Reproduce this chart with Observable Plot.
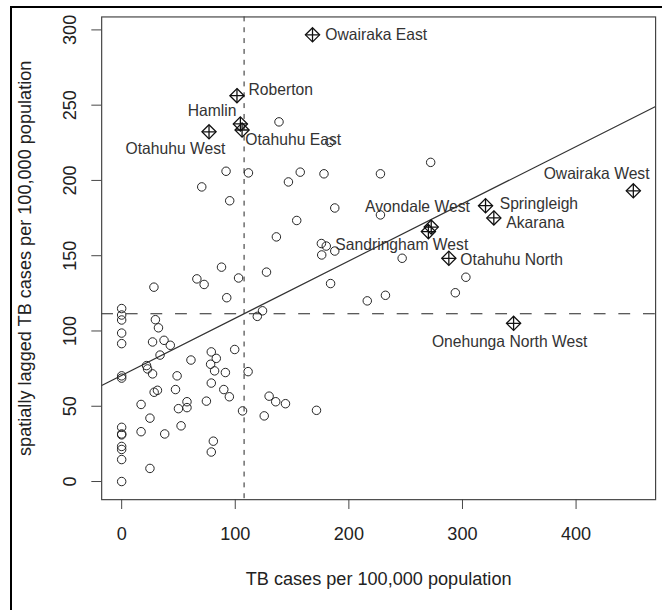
<!DOCTYPE html>
<html><head><meta charset="utf-8">
<script src="https://cdn.jsdelivr.net/npm/d3@7"></script>
<script src="https://cdn.jsdelivr.net/npm/@observablehq/plot@0.6"></script>
<style>
html,body{margin:0;padding:0;background:#fff;overflow:hidden;}
#wrap{position:relative;width:662px;height:610px;overflow:hidden;background:#fff;}
#frame{position:absolute;left:10px;top:6px;width:720px;height:720px;border-left:2px solid #000;border-top:2px solid #000;}
#chart{position:absolute;left:0;top:0;}
</style></head><body>
<div id="wrap"><div id="frame"></div><div id="chart"></div></div>
<script>
// ---- data ----
// ordinary areas: TB rate (x) and spatially lagged TB rate (y)
const tbRate = [
  0,0,0,0,0,0,0,0,0,0,0,0,0,0,
  17.1,17.1,21.9,22.8,24.9,24.9,
  27.2,27.2,28.4,28.6,31.5,29.7,32.4,
  33.8,37.3,37.9,42.8,
  47.4,48.8,50,52.3,57.5,57.5,61,
  66.2,72.6,70.5,74.6,78.3,78.9,78.9,
  78.9,80.7,81.8,83.3,87.9,89.9,91.3,
  91.9,92.5,94.8,95.1,99.5,102.9,106.4,111.3,
  111.6,119.4,124,125.5,127.5,129.8,135.6,
  136.2,138.5,144.2,146.8,154.1,157.2,171.5,
  175.8,176.1,180.1,178.1,183.3,183.9,187.6,187.6,
  216.2,227.8,227.8,232.2,246.9,272,293.7,303
];
const laggedRate = [
  0,14.6,21.3,23.3,31,31.6,36,68.7,70.2,91.6,98.6,107.3,110.6,114.9,
  51.2,33.1,77,74.8,42.1,8.7,
  92.7,71.5,129.1,59.3,60.6,107.5,102.1,
  84,93.8,31.6,90.5,
  61.1,70.2,48.4,37,53,49.1,80.7,
  134.6,130.9,195.7,53.4,77.9,86.1,65.4,
  19.6,26.8,73.5,81.8,142.4,61.1,72.4,
  206.1,122.1,56.3,186.5,87.7,135.2,46.9,73,
  205,109.7,113.4,43.6,139.1,56.7,53,
  162.5,238.9,51.7,199,173.4,205.5,47.3,
  158.1,150.5,156.4,204.4,225.3,131.5,153.1,181.7,
  120,204.4,177.1,123.7,148.3,212,125.4,135.7
];
// influential (labelled) areas
const flaggedNames = ["Owairaka East","Roberton","Hamlin","Otahuhu East","Otahuhu West","Avondale West","Sandringham West","Springleigh","Akarana","Otahuhu North","Owairaka West","Onehunga North West"];
const flaggedRate   = [168, 101.5, 104.5, 106, 76.9, 272.5, 270, 320.3, 327.6, 288, 450.4, 345];
const flaggedLagged = [296.7, 256.3, 237.5, 233.5, 232.3, 169, 166, 183.2, 175.1, 148.3, 193.1, 105.1];

const xTicks = [0, 100, 200, 300, 400];
const yTicks = [0, 50, 100, 150, 200, 250, 300];
const xLabel = "TB cases per 100,000 population";
const yLabel = "spatially lagged TB cases per 100,000 population";

// ---- layout (label placement in pixels) ----
const labelPlacement = {
  "Owairaka East":       {anchor: "start",  dx: 13,   dy: 0},
  "Roberton":            {anchor: "start",  dx: 11.7, dy: -5.7},
  "Hamlin":              {anchor: "end",    dx: -4,   dy: -12.7},
  "Otahuhu East":        {anchor: "start",  dx: 3.3,  dy: 10},
  "Otahuhu West":        {anchor: "end",    dx: 16.6, dy: 17.4},
  "Avondale West":       {anchor: "middle", dx: -14,  dy: -20.5},
  "Sandringham West":    {anchor: "middle", dx: -27,  dy: 14},
  "Springleigh":         {anchor: "start",  dx: 14.4, dy: -1.6},
  "Akarana":             {anchor: "start",  dx: 12.6, dy: 5},
  "Otahuhu North":       {anchor: "start",  dx: 11.7, dy: 1.6},
  "Owairaka West":       {anchor: "middle", dx: -37.3,dy: -16.6},
  "Onehunga North West": {anchor: "middle", dx: -4,   dy: 19}
};

const circles = tbRate.map((x, i) => ({x, y: laggedRate[i]}));
const flagged = flaggedNames.map((name, i) => ({name, x: flaggedRate[i], y: flaggedLagged[i]}));

const allX = tbRate.concat(flaggedRate), allY = laggedRate.concat(flaggedLagged);
const mx = d3.mean(allX), my = d3.mean(allY);
const slope = d3.sum(allX, (x, i) => (x - mx) * (allY[i] - my)) / d3.sum(allX, x => (x - mx) ** 2);
const xDomain = [-17.6, 470];
const yDomain = [-12.04, 308.6];
const regLine = xDomain.map(x => ({x, y: my + slope * (x - mx)}));

const W = 672, H = 610;
const frameLeft = 102.7, frameRight = 665, frameTop = 16.7, frameBottom = 506.7;
const FONT = "'Liberation Sans', Arial, Helvetica, sans-serif";
const ink = "#222";

const labelMarks = flagged.map(d => {
  const p = labelPlacement[d.name];
  return Plot.text([d], {x: "x", y: "y", text: "name", textAnchor: p.anchor, dx: p.dx, dy: p.dy,
    fontSize: 15.9, fill: "#333", lineAnchor: "middle"});
});

const chart = Plot.plot({
  width: W, height: H,
  marginLeft: frameLeft, marginRight: W - frameRight, marginTop: frameTop, marginBottom: H - frameBottom,
  x: {domain: xDomain, axis: null},
  y: {domain: yDomain, axis: null},
  style: {fontFamily: FONT, background: "transparent", overflow: "visible"},
  marks: [
    Plot.ruleX([mx], {stroke: ink, strokeWidth: 1, strokeDasharray: "5,6"}),
    Plot.ruleY([my], {stroke: ink, strokeWidth: 1, strokeDasharray: "12,13"}),
    Plot.line(regLine, {x: "x", y: "y", stroke: "#333", strokeWidth: 1.2, clip: true}),
    Plot.dot(circles, {x: "x", y: "y", r: 4.3, stroke: ink, strokeWidth: 1, fill: "none"}),
    Plot.dot(flagged, {x: "x", y: "y", symbol: "diamond2", r: 6.5, stroke: "#111", strokeWidth: 1.3, fill: "none"}),
    Plot.dot(flagged, {x: "x", y: "y", symbol: "plus", r: 4.6, stroke: "#111", strokeWidth: 1.3}),
    ...labelMarks,
    Plot.frame({stroke: "#444", strokeWidth: 1.2}),
    Plot.axisX(xTicks, {anchor: "bottom", tickSize: 10, tickFormat: () => "", label: null, stroke: "#444"}),
    Plot.axisY(yTicks, {anchor: "left", tickSize: 10, tickFormat: () => "", label: null, stroke: "#444"}),
    Plot.text(xTicks, {x: d => d, text: d => String(d), frameAnchor: "bottom", lineAnchor: "top", dy: 28.3, fontSize: 18.4, fill: ink}),
    Plot.text(yTicks, {y: d => d, text: d => String(d), frameAnchor: "left", rotate: -90, textAnchor: "middle", lineAnchor: "bottom", dx: -25.7, fontSize: 18.4, fill: ink}),
    Plot.text([xLabel], {text: d => d, frameAnchor: "bottom", lineAnchor: "bottom", dy: 86.6, fontSize: 18.4, fill: ink}),
    Plot.text([yLabel], {text: d => d, frameAnchor: "left", rotate: -90, textAnchor: "middle", lineAnchor: "bottom", dx: -71.7, fontSize: 18.4, fill: ink})
  ]
});
document.getElementById("chart").appendChild(chart);
</script>
</body></html>
